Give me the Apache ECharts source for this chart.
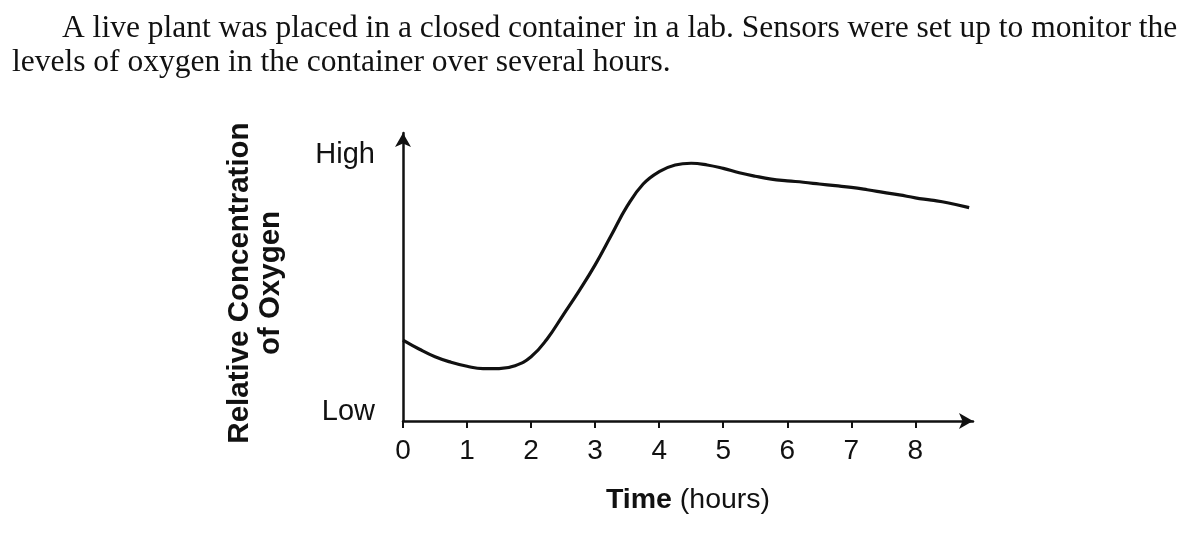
<!DOCTYPE html>
<html>
<head>
<meta charset="utf-8">
<script src="https://cdn.jsdelivr.net/npm/echarts@6/dist/echarts.min.js"></script>
<style>
  html, body { margin: 0; padding: 0; background: #fff; }
  #main { width: 1196px; height: 542px; }
</style>
</head>
<body>
<div id="main"></div>
<script>
// time (hours) and relative oxygen level (0 = low, 100 = top of axis)
var hours = [0, 0.25, 0.5, 0.75, 1, 1.25, 1.5, 1.75, 2, 2.25, 2.5, 2.75, 3, 3.25, 3.5, 3.75,
  4, 4.25, 4.5, 4.75, 5, 5.25, 5.5, 5.75, 6, 6.25, 6.5, 6.75, 7, 7.25, 7.5, 7.75, 8, 8.25, 8.5, 8.84];
var oxygen = [28.1, 25.0, 22.3, 20.4, 19.0, 18.2, 18.2, 19.2, 22.3, 28.5, 36.8, 45.2, 54.2, 64.4, 74.6, 82.3,
  86.6, 88.9, 89.5, 88.9, 87.7, 86.2, 85.0, 84.0, 83.4, 82.9, 82.3, 81.7, 81.1, 80.3, 79.4, 78.5, 77.5, 76.7, 75.8, 74.1];
var xTicks = [0, 1, 2, 3, 4, 5, 6, 7, 8];
var yLabelValues = [3, 92.5];
var yLabelTexts = ['Low', 'High'];
var introLines = [
  'A live plant was placed in a closed container in a lab. Sensors were set up to monitor the',
  'levels of oxygen in the container over several hours.'
];

var chart = echarts.init(document.getElementById('main'));

var data = hours.map(function (h, i) { return [h, oxygen[i]]; });

var option = {
  animation: false,
  grid: { left: 403, top: 133, width: 570, height: 288 },
  graphic: [
    {
      type: 'text', left: 62, top: 13,
      style: { text: introLines[0], font: '31.5px "Liberation Serif"', fill: '#111' }
    },
    {
      type: 'text', left: 12, top: 47,
      style: { text: introLines[1], font: '31.5px "Liberation Serif"', fill: '#111' }
    },
    {
      type: 'text', x: 255, y: 283, rotation: Math.PI / 2,
      style: {
        text: 'Relative Concentration\nof Oxygen',
        font: 'bold 29.5px "Liberation Sans"', fill: '#111',
        align: 'center', verticalAlign: 'middle', lineHeight: 31
      }
    }
  ],
  xAxis: {
    type: 'value',
    min: 0,
    max: 8.9,
    interval: 1,
    name: '{b|Time} (hours)',
    nameLocation: 'middle',
    nameGap: 65,
    nameTextStyle: {
      fontFamily: 'Liberation Sans', fontSize: 28.5, color: '#111',
      rich: { b: { fontFamily: 'Liberation Sans', fontSize: 28.5, fontWeight: 'bold', color: '#111' } }
    },
    axisLine: {
      show: true,
      lineStyle: { color: '#111', width: 2.5 },
      symbol: ['none', 'arrow'],
      symbolSize: [12, 14]
    },
    axisTick: { show: true, length: 7, lineStyle: { color: '#111', width: 2 },
      customValues: xTicks },
    axisLabel: {
      customValues: xTicks,
      fontFamily: 'Liberation Sans', fontSize: 28, color: '#111', margin: 16
    },
    splitLine: { show: false }
  },
  yAxis: {
    type: 'value',
    min: 0,
    max: 100,
    axisLine: {
      show: true,
      lineStyle: { color: '#111', width: 2.5 },
      symbol: ['none', 'arrow'],
      symbolSize: [12, 14]
    },
    axisTick: { show: false },
    axisLabel: {
      customValues: yLabelValues,
      formatter: function (v) {
        var i = yLabelValues.indexOf(v);
        return i >= 0 ? yLabelTexts[i] : '';
      },
      fontFamily: 'Liberation Sans', fontSize: 29, color: '#111', margin: 28
    },
    splitLine: { show: false }
  },
  series: [{
    type: 'line',
    data: data,
    smooth: 0.45,
    showSymbol: false,
    lineStyle: { color: '#111', width: 3.2 }
  }]
};

chart.setOption(option);
</script>
</body>
</html>
